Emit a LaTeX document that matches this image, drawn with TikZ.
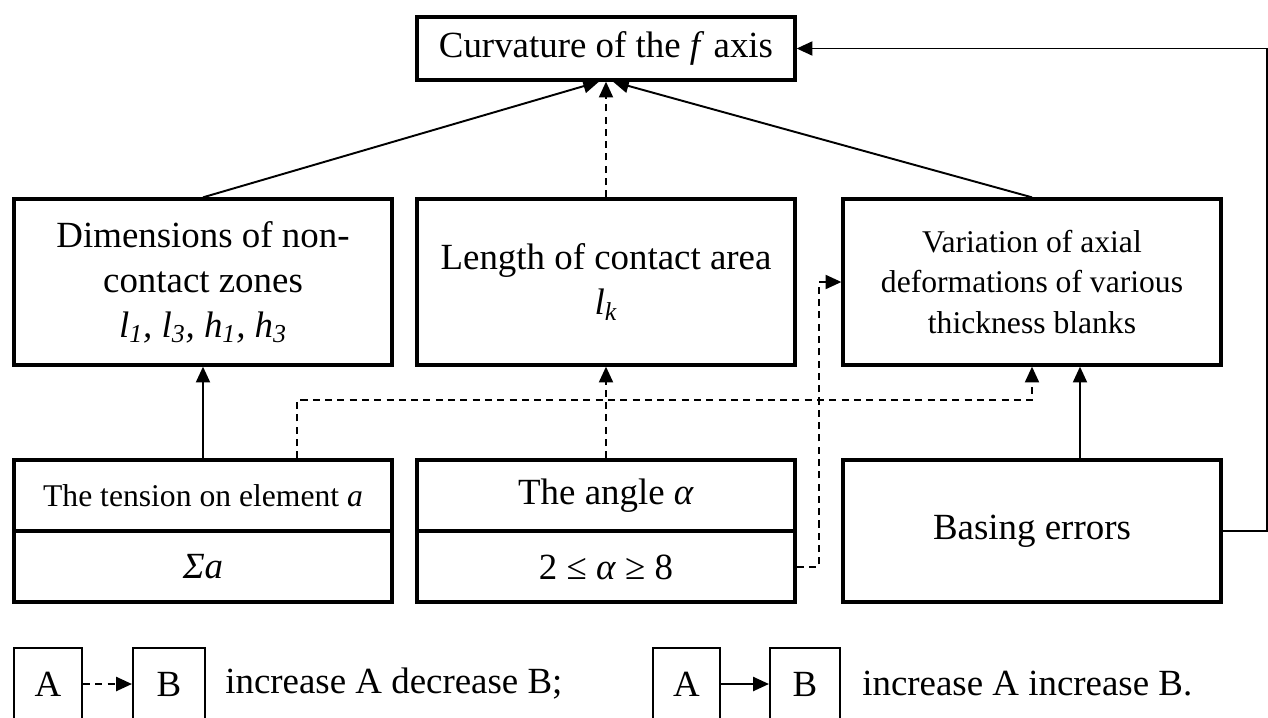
\documentclass[tikz,border=0pt]{standalone}
\usepackage{fontspec}
\setmainfont{Liberation Serif}
\usetikzlibrary{arrows.meta}
\begin{document}
\begin{tikzpicture}[x=0.02cm,y=-0.02cm,
 box/.style={draw, line width=1.9pt, minimum width=7.56cm, align=center, inner sep=0pt},
 lbox/.style={draw, line width=1.2pt, minimum height=1.44cm, inner sep=0pt},
 conn/.style={line width=1.1pt, -{Triangle[length=9pt,width=8pt]}},
 dconn/.style={conn, dash pattern=on 4pt off 3pt},
 big/.style={font=\fontsize{21}{25.6}\selectfont},
 small/.style={font=\fontsize{18}{22.8}\selectfont}]
\useasboundingbox (0,0) rectangle (1268,717);
\clip (0,0) rectangle (1268,717);
% top
\node[box, big, minimum height=1.26cm] (top) at (606,48.5) {Curvature of the \textit{f} axis};
% middle row
\node[box, big, minimum height=3.32cm] (dim) at (203,282) {Dimensions of non-\\contact zones\\\textit{l\textsubscript{1}, l\textsubscript{3}, h\textsubscript{1}, h\textsubscript{3}}};
\node[box, big, minimum height=3.32cm] (len) at (606,282) {Length of contact area\\\textit{l\textsubscript{k}}};
\node[box, small, minimum height=3.32cm] (var) at (1032,282) {Variation of axial\\deformations of various\\thickness blanks};
% bottom row
\node[box, minimum height=2.84cm] (ten) at (203,531) {};
\draw[line width=1.9pt] (ten.west) -- (ten.east);
\node[small] (tent) at (203,496) {The tension on element \textit{a}};
\node[big] (tens) at (203,567) {\textit{Σa}};
\node[box, minimum height=2.84cm] (ang) at (606,531) {};
\draw[line width=1.9pt] (ang.west) -- (ang.east);
\node[big] (angt) at (606,496) {The angle \textit{α}};
\node[big] (angs) at (606,567) {2 ≤ \textit{α} ≥ 8};
\node[box, big, minimum height=2.84cm] (bas) at (1032,531) {Basing errors};
% connectors
\draw[conn] (dim.north) -- ([xshift=-0.14cm]top.south);
\draw[dconn] (len.north) -- (top.south);
\draw[conn] (var.north) -- ([xshift=0.14cm]top.south);
\draw[conn] (ten.north) -- (dim.south);
\draw[dconn] ([xshift=1.88cm]ten.north) -- ++(0,-58) -| (var.south);
\draw[dconn] (ang.north) -- (len.south);
\draw[conn] ([xshift=0.96cm]bas.north) -- ([xshift=0.96cm]var.south);
\draw[dconn] (angs.east -| ang.east) -- ++(22,0) |- (var.west);
\draw[conn] (bas.east) -- ++(44,0) |- (top.east);
% legend
\node[lbox, big, minimum width=1.36cm] (la) at (48,684) {A};
\node[lbox, big, minimum width=1.44cm] (lb) at (169,684) {B};
\draw[dconn] (la.east) -- (lb.west);
\node[big, anchor=west, inner sep=0pt] (lt1) at (225,684) {increase A decrease B;};
\node[lbox, big, minimum width=1.34cm] (lc) at (686.5,684) {A};
\node[lbox, big, minimum width=1.40cm] (ld) at (805,684) {B};
\draw[conn] (lc.east) -- (ld.west);
\node[big, anchor=west, inner sep=0pt] (lt2) at (862,684) {increase A increase B.};
\end{tikzpicture}
\end{document}
